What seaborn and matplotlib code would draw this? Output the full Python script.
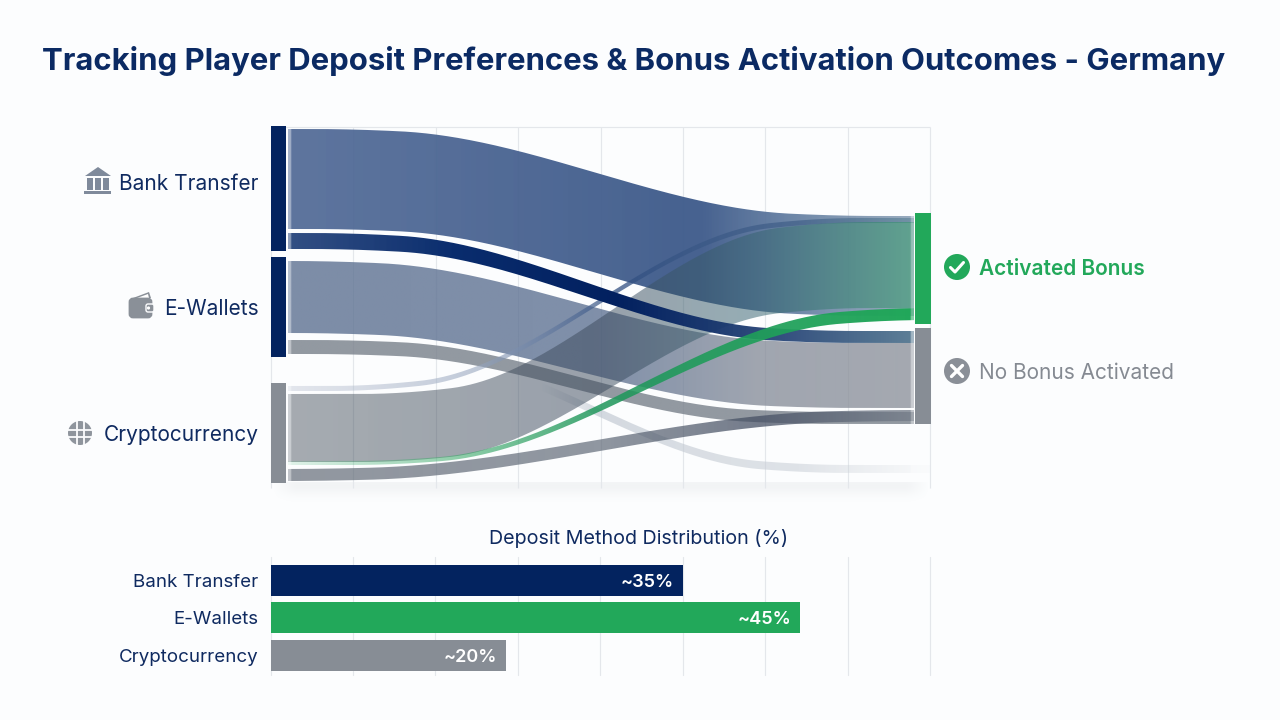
import numpy as np
import pandas as pd
import matplotlib
matplotlib.use("Agg")
import matplotlib.pyplot as plt
from matplotlib.path import Path
from matplotlib.patches import PathPatch, Circle, Rectangle, Polygon, FancyBboxPatch
import seaborn as sns

# ---- data -------------------------------------------------------------
title = "Tracking Player Deposit Preferences & Bonus Activation Outcomes - Germany"
bar_title = "Deposit Method Distribution (%)"

methods = ["Bank Transfer", "E-Wallets", "Cryptocurrency"]
method_share = [35, 45, 20]
share_labels = ["~35%", "~45%", "~20%"]

outcomes = ["Activated Bonus", "No Bonus Activated"]

# flow sizes at the deposit side and at the outcome side
flow_names = ["bank_yes", "wallet_no", "wallet_no_small", "wallet_faded", "crypto_thin",
              "crypto_yes", "crypto_no", "bank_no", "crypto_green"]
flow_out = [100, 72, 14, 8, 5, 68, 12, 16, 4]
flow_in = [100, 65, 12, 8, 5, 86, 11, 12, 12]

# ---- layout (figure pixels) --------------------------------------------
NAVY, GREEN, GREY = "#03235f", "#22a85a", "#878d95"
TEXT = "#0f2a60"
BG = "#fcfdfe"
GRID = "#e4e7eb"
X_L, X_R = 288, 914
grid_x = np.linspace(271, 930, 9)

node_left = [(126, 251, NAVY), (257, 357, NAVY), (383, 483, GREY)]
node_right = [(213, 324, GREEN), (328, 424, GREY)]

flow_top_left = [129, 261, 340, 344, 386, 394, 469, 233, 461]
flow_top_right = [216, 343, 412, 465, 218, 222, 410, 331, 308]
flow_span = [(400, 790), (380, 770), (400, 750), (420, 760), (420, 770),
             (450, 780), (370, 830), (400, 770), (440, 840)]

# gradient stops: pixel x, r, g, b, alpha
flow_paint = [
    [(288, 80, 105, 150, .92), (700, 66, 94, 141, .98), (800, 100, 127, 162, .92), (914, 120, 145, 170, .75)],
    [(288, 92, 112, 145, .80), (600, 92, 112, 145, .78), (760, 130, 137, 150, .75), (914, 140, 145, 155, .78)],
    [(288, 120, 128, 138, .80), (914, 120, 128, 138, .80)],
    [(288, 190, 198, 208, 0), (540, 190, 198, 208, .0), (600, 190, 198, 208, .65), (800, 200, 206, 214, .55), (930, 210, 215, 220, .1)],
    [(288, 180, 188, 205, .35), (480, 150, 165, 190, .6), (620, 50, 80, 130, .75), (800, 70, 100, 140, .8), (914, 90, 130, 150, .6)],
    [(288, 72, 82, 92, .48), (600, 61, 75, 94, .52), (760, 54, 100, 113, .52), (914, 50, 155, 105, .55)],
    [(288, 100, 108, 120, .70), (600, 85, 95, 110, .65), (760, 70, 80, 100, .75), (914, 120, 128, 140, .8)],
    [(288, 40, 70, 125, .95), (450, 10, 45, 110, 1), (620, 2, 32, 95, 1), (780, 40, 70, 120, .95), (914, 85, 120, 145, .95)],
    [(288, 60, 175, 110, .15), (450, 60, 170, 105, .55), (600, 30, 150, 90, .85), (914, 34, 168, 90, 1)],
]


def step(x, a, b):
    f = np.clip((x - a) / (b - a), 0, 1)
    return f * f * (3 - 2 * f)


def smooth(x, span):
    # a tighter and a looser S-curve blended, so the ribbons leave their nodes gently
    return .6 * step(x, span[0], span[1]) + .4 * step(x, span[0] - 90, span[1] + 90)


sns.set_theme(style="white", rc={"axes.facecolor": "none", "figure.facecolor": BG})
plt.rcParams["font.family"] = ["Inter", "Liberation Sans", "DejaVu Sans"]

fig = plt.figure(figsize=(12.8, 7.2), dpi=100, facecolor=BG)
canvas = fig.add_axes([0, 0, 1, 1], zorder=0)
canvas.set_xlim(0, 1280)
canvas.set_ylim(720, 0)
canvas.set_autoscale_on(False)
canvas.axis("off")

# soft shadow under the flow panel
shade = np.zeros((30, 200, 4))
shade[..., :3] = np.array([120, 128, 140]) / 255
fade_y = np.exp(-((np.linspace(0, 1, 30) - .12) / .42) ** 2)
fade_x = np.clip(np.minimum(np.linspace(0, 1, 200), np.linspace(1, 0, 200)) * 30, 0, 1)
shade[..., 3] = .075 * fade_y[:, None] * fade_x[None, :]
canvas.imshow(shade, extent=(271, 931, 506, 482), aspect="auto", zorder=1, interpolation="bilinear")

canvas.vlines(grid_x, 127, 488, color=GRID, lw=.85, zorder=1)
canvas.hlines(127, 271, 930, color=GRID, lw=.85, zorder=1)

# ribbons, each one a horizontal gradient clipped to its outline
for i, name in enumerate(flow_names):
    x_end = 930 if name == "wallet_faded" else X_R
    xs = np.linspace(X_L, x_end, 300)
    s = smooth(xs, flow_span[i])
    top = flow_top_left[i] + (flow_top_right[i] - flow_top_left[i]) * s
    bottom = top + flow_out[i] + (flow_in[i] - flow_out[i]) * s
    verts = np.r_[np.c_[xs, top], np.c_[xs[::-1], bottom[::-1]]]
    outline = PathPatch(Path(verts), transform=canvas.transData, fc="none", ec="none")
    canvas.add_patch(outline)
    stops = np.array(flow_paint[i], dtype=float)
    gx = np.linspace(X_L, x_end, 400)
    rgba = np.stack([np.interp(gx, stops[:, 0], stops[:, c]) for c in range(1, 5)], axis=-1)
    rgba[:, :3] /= 255
    # lighter lip where the ribbon meets its node
    rgba[gx < X_L + 3, 3] *= .55
    rgba[gx > X_R - 3, 3] *= .55
    y0, y1 = min(top.min(), bottom.min()), max(top.max(), bottom.max())
    im = canvas.imshow(rgba[None, ...], extent=(X_L, x_end, y1, y0), aspect="auto",
                       zorder=2 + i * .01, interpolation="bilinear")
    im.set_clip_path(outline)

for y0, y1, c in node_left:
    canvas.add_patch(Rectangle((271, y0), 15, y1 - y0, fc=c, ec="none", zorder=3))
for y0, y1, c in node_right:
    canvas.add_patch(Rectangle((915, y0), 16, y1 - y0, fc=c, ec="none", zorder=3))

# text labels around the flow panel
canvas.text(633.5, 61, title, ha="center", va="center", fontsize=22.35, fontweight="bold", color="#0b2a63")
for name, y in zip(methods, [184, 309, 435]):
    canvas.text(258.5, y, name, ha="right", va="center", fontsize=15, color=TEXT)
canvas.text(979, 269, outcomes[0], ha="left", va="center", fontsize=15, fontweight="semibold", color=GREEN)
canvas.text(979, 373, outcomes[1], ha="left", va="center", fontsize=15, color="#858a92")
canvas.text(638.5, 538, bar_title, ha="center", va="center", fontsize=14.2, color=TEXT)

# bank icon
ICON = "#7f8a9b"
canvas.add_patch(Polygon([(85, 176), (98, 167), (111, 176)], fc=ICON, ec="none"))
for x in (87, 95, 103):
    canvas.add_patch(Rectangle((x, 177.5), 6, 12, fc=ICON, ec="none"))
canvas.add_patch(Rectangle((84, 190.5), 27, 3.5, fc=ICON, ec="none"))

# wallet icon
WALLET = "#8a9098"
canvas.add_patch(Polygon([(133, 298), (149, 292), (151, 298)], fc=WALLET, ec="none"))
canvas.add_patch(Polygon([(137, 298), (148, 294), (149, 298)], fc="white", ec="none"))
canvas.add_patch(FancyBboxPatch((130, 299), 21, 18, boxstyle="round,pad=0,rounding_size=3",
                                mutation_aspect=1, fc=WALLET, ec=WALLET, lw=2))
canvas.add_patch(FancyBboxPatch((146, 304), 8, 8, boxstyle="round,pad=0,rounding_size=2",
                                fc=WALLET, ec=BG, lw=1))
canvas.add_patch(Circle((148.5, 308), 1.6, fc="white", ec="none"))

# crypto icon
canvas.add_patch(Circle((80, 433), 12, fc="#8f959d", ec="none"))
for d in (-3.5, 3.5):
    canvas.plot([80 + d, 80 + d], [420, 446], color=BG, lw=1.3, solid_capstyle="butt")
    canvas.plot([67, 93], [433 + d, 433 + d], color=BG, lw=1.3, solid_capstyle="butt")

# outcome badges
canvas.add_patch(Circle((957, 267), 13, fc=GREEN, ec="none"))
canvas.plot([950.5, 955, 963.5], [267.5, 272, 262.5], color="white", lw=2.2, solid_capstyle="round", solid_joinstyle="round")
canvas.add_patch(Circle((957, 371), 13, fc="#8a8f97", ec="none"))
canvas.plot([951.5, 962.5], [365.5, 376.5], color="white", lw=2.4, solid_capstyle="round")
canvas.plot([951.5, 962.5], [376.5, 365.5], color="white", lw=2.4, solid_capstyle="round")

# distribution bars
bars = fig.add_axes([270.5 / 1280, 1 - 675 / 720, (930 - 270.5) / 1280, (675 - 557) / 720], zorder=2)
frame = pd.DataFrame({"method": methods, "share": method_share})
sns.barplot(data=frame, y="method", x="share", hue="method", order=methods, hue_order=methods,
            palette=[NAVY, GREEN, GREY], width=.82, saturation=1, legend=False, linewidth=0, ax=bars)
bars.set_xlim(0, 56)
bars.set_ylim(2.53, -.627)
bars.set_xticks(np.arange(0, 57, 7))
bars.set_xticklabels([])
bars.xaxis.grid(True, color=GRID, lw=.85)
for line in bars.get_xgridlines():
    line.set_clip_on(False)
bars.set_axisbelow(True)
bars.set_xlabel("")
bars.set_ylabel("")
bars.tick_params(axis="y", length=0, pad=9, labelsize=13.5, labelcolor=TEXT)
bars.tick_params(axis="x", length=0)
sns.despine(ax=bars, left=True, bottom=True)
for k, (v, lab) in enumerate(zip(method_share, share_labels)):
    bars.annotate(lab, (v, k), xytext=(-6.5, -1.5), textcoords="offset points", ha="right", va="center",
                  color="white", fontsize=13, fontweight="semibold")

fig.savefig("out.png", dpi=100, facecolor=BG)
